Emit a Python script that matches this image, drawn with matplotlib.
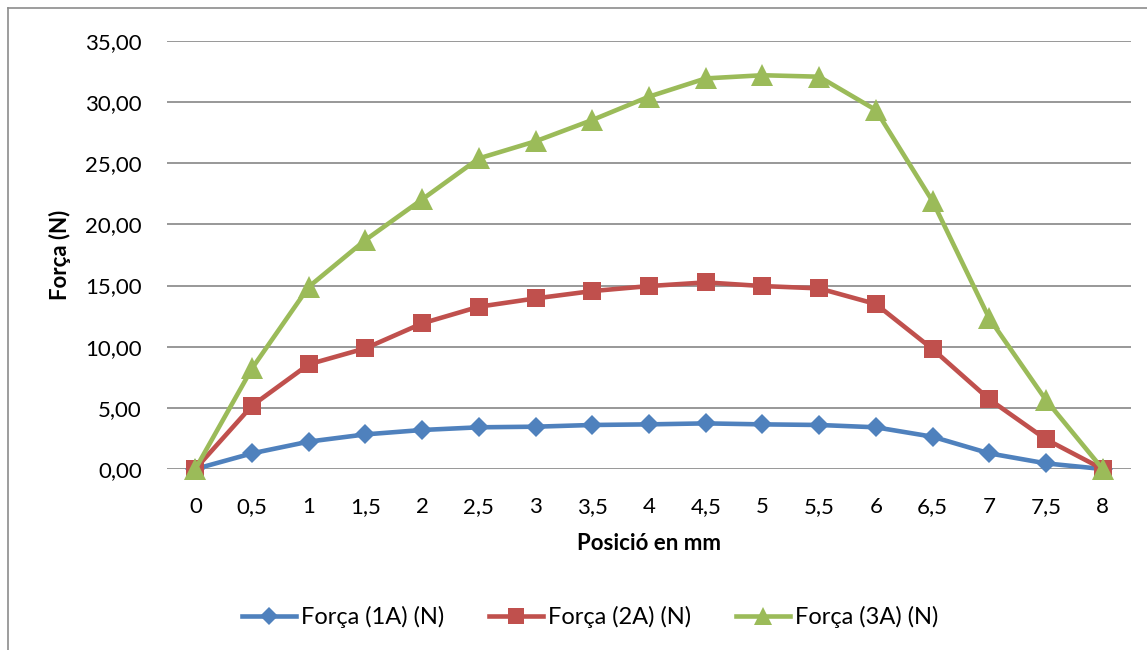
import matplotlib
matplotlib.use("Agg")
import matplotlib.pyplot as plt
from matplotlib.lines import Line2D
from matplotlib.ticker import FuncFormatter

# Position along the stroke (mm) and measured force for each coil current
positions = ["0", "0,5", "1", "1,5", "2", "2,5", "3", "3,5", "4",
             "4,5", "5", "5,5", "6", "6,5", "7", "7,5", "8"]
force_1a = [0.00, 1.28, 2.24, 2.83, 3.19, 3.41, 3.46, 3.60, 3.65,
            3.73, 3.65, 3.60, 3.41, 2.64, 1.28, 0.46, 0.00]
force_2a = [0.00, 5.18, 8.56, 9.87, 11.91, 13.27, 13.95, 14.55, 14.96,
            15.26, 14.96, 14.77, 13.49, 9.81, 5.70, 2.43, 0.00]
force_3a = [0.00, 8.23, 14.90, 18.73, 22.05, 25.40, 26.80, 28.54, 30.45,
            31.94, 32.20, 32.08, 29.36, 21.90, 12.32, 5.64, 0.00]
series_names = ["Força (1A) (N)", "Força (2A) (N)", "Força (3A) (N)"]

W, H = 1147, 650
plt.rcParams["font.family"] = ["Lato", "DejaVu Sans"]

fig = plt.figure(figsize=(W / 100, H / 100), dpi=100)
fig.patch.set_facecolor("white")

# Plot area
left, right, top, bottom = 167, 1131, 41, 469
ax = fig.add_axes([left / W, 1 - bottom / H, (right - left) / W, (bottom - top) / H])

x = list(range(len(positions)))
styles = [
    (force_1a, "#4F81BD", "D", 10.5),
    (force_2a, "#C0504D", "s", 13.5),
    (force_3a, "#9BBB59", "^", 15.5),
]
handles = []
for (vals, color, marker, ms), name in zip(styles, series_names):
    h, = ax.plot(x, vals, color=color, lw=3.3, marker=marker, markersize=ms,
                 markeredgewidth=0, label=name, clip_on=False, zorder=3)
    handles.append(h)

ax.set_xlim(-0.5, len(positions) - 0.5)
ax.set_ylim(0, 35)
ax.set_yticks(range(0, 36, 5))
ax.yaxis.set_major_formatter(FuncFormatter(lambda v, p: f"{v:.2f}".replace(".", ",")))
ax.set_xticks(x)
ax.set_xticklabels(positions)

ax.grid(axis="y", color="#868686", lw=1.2, zorder=0)
ax.set_axisbelow(True)
for s in ax.spines.values():
    s.set_visible(False)
ax.tick_params(axis="both", length=0, labelsize=16, colors="black")
ax.tick_params(axis="y", pad=18)
ax.tick_params(axis="x", pad=20)

ax.set_ylabel("Força (N)", fontsize=16, fontweight="bold", labelpad=10)
ax.set_xlabel("Posició en mm", fontsize=16, fontweight="bold", labelpad=12)

fig.legend(handles=handles, loc="center", bbox_to_anchor=(590 / W, 1 - 617 / H),
           ncol=3, frameon=False, fontsize=17, handlelength=2.3,
           handletextpad=0.2, columnspacing=1.9, markerscale=0.85)

# Outer chart frame
frame_color = "#8c8c8c"
fig.add_artist(Line2D([8 / W, 8 / W], [0, 1 - 8 / H], color=frame_color, lw=1.2))
fig.add_artist(Line2D([8 / W, 1], [1 - 8 / H, 1 - 8 / H], color=frame_color, lw=1.2))

fig.savefig("out.png", dpi=100, facecolor="white")
